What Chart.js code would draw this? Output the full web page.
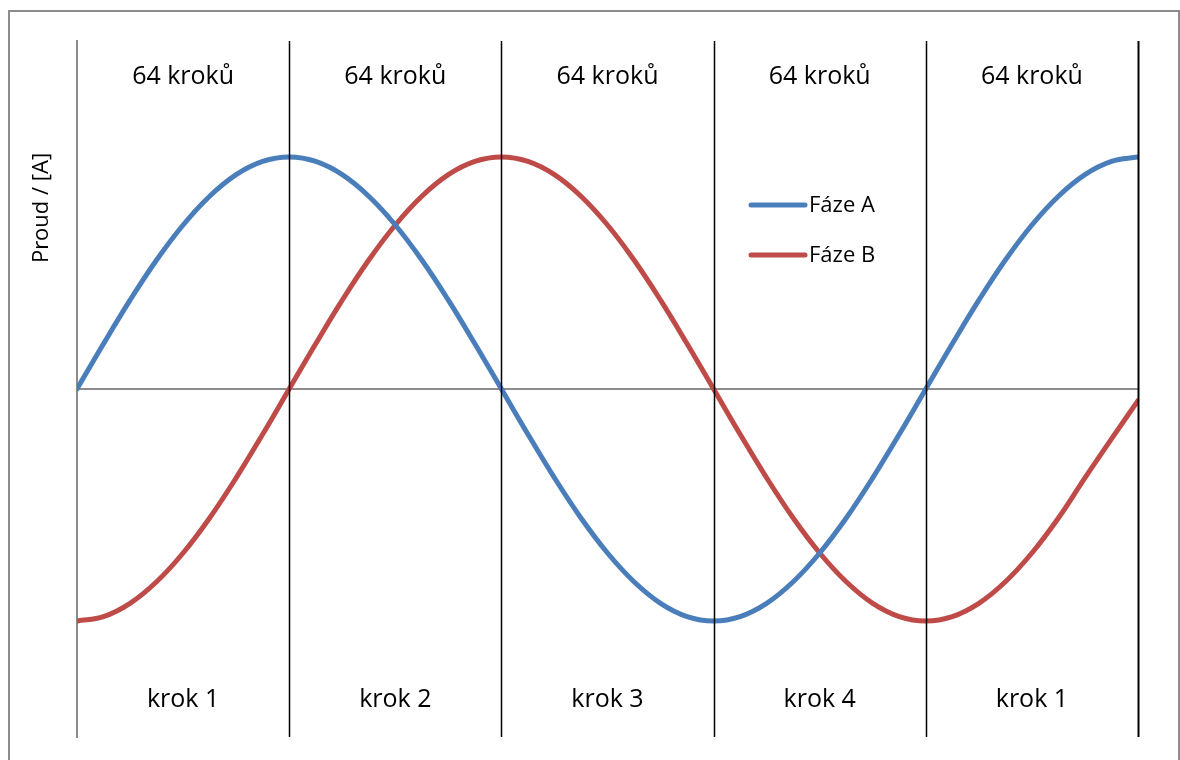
<!DOCTYPE html>
<html>
<head>
<meta charset="utf-8">
<script src="https://cdn.jsdelivr.net/npm/chart.js@4/dist/chart.umd.min.js"></script>
<style>
  body { margin: 0; background: #fff; }
  #wrap { position: relative; width: 1180px; height: 760px; overflow: hidden; }
  #frame { position: absolute; left: 8px; top: 10px; width: 1172px; height: 800px;
           border: 2px solid #8c8c8c; box-sizing: border-box; pointer-events: none; }
  canvas { position: absolute; left: 0; top: 0; }
</style>
</head>
<body>
<div id="wrap">
  <canvas id="chart" width="1180" height="760"></canvas>
  <div id="frame"></div>
</div>
<script>
// mikrokroky (po 8), 5 úseků po 64 krocích
const steps = [0, 8, 16, 24, 32, 40, 48, 56, 64, 72, 80, 88, 96, 104, 112, 120, 128,
  136, 144, 152, 160, 168, 176, 184, 192, 200, 208, 216, 224, 232, 240, 248, 256,
  264, 272, 280, 288, 296, 304, 312, 320];

// proud fáze A a B (relativně k maximu)
const fazeA = [0, 0.195, 0.383, 0.556, 0.707, 0.831, 0.924, 0.981, 1, 0.981, 0.924,
  0.831, 0.707, 0.556, 0.383, 0.195, 0, -0.195, -0.383, -0.556, -0.707, -0.831, -0.924,
  -0.981, -1, -0.981, -0.924, -0.831, -0.707, -0.556, -0.383, -0.195, 0, 0.195, 0.383,
  0.556, 0.707, 0.831, 0.924, 0.981, 1];
const fazeB = [-1, -0.981, -0.924, -0.831, -0.707, -0.556, -0.383, -0.195, 0, 0.195,
  0.383, 0.556, 0.707, 0.831, 0.924, 0.981, 1, 0.981, 0.924, 0.831, 0.707, 0.556, 0.383,
  0.195, 0, -0.195, -0.383, -0.556, -0.707, -0.831, -0.924, -0.981, -1, -0.981, -0.924,
  -0.831, -0.707, -0.556, -0.383, -0.215, -0.05];

const segment = 64;
const topLabels = ["64 kroků", "64 kroků", "64 kroků", "64 kroků", "64 kroků"];
const bottomLabels = ["krok 1", "krok 2", "krok 3", "krok 4", "krok 1"];
const seriesNames = ["Fáze A", "Fáze B"];
const seriesColors = ["#4a7ebb", "#be4b48"];
const yTitle = "Proud / [A]";

const FONT = "'Open Sans', 'DejaVu Sans', sans-serif";

// dělicí čáry, popisky úseků, legenda a titulek osy
const overlay = {
  id: 'overlay',
  afterDatasetsDraw(chart) {
    const { ctx, chartArea: a, scales: { x, y } } = chart;
    ctx.save();

    ctx.strokeStyle = '#000';
    for (let i = 1; i <= topLabels.length; i++) {
      const px = Math.round(x.getPixelForValue(i * segment)) + 0.5;
      ctx.lineWidth = i === topLabels.length ? 2 : 1.5;
      ctx.beginPath();
      ctx.moveTo(px, a.top);
      ctx.lineTo(px, a.bottom);
      ctx.stroke();
    }

    ctx.fillStyle = '#000';
    ctx.textAlign = 'center';
    ctx.textBaseline = 'alphabetic';
    ctx.font = '25px ' + FONT;
    topLabels.forEach((t, i) => {
      const cx = x.getPixelForValue(i * segment + segment / 2);
      ctx.fillText(t, cx, a.top + 43);
      ctx.fillText(bottomLabels[i], cx, a.bottom - 30);
    });

    // legenda
    ctx.font = '22px ' + FONT;
    ctx.textAlign = 'left';
    ctx.lineCap = 'round';
    ctx.lineWidth = 5;
    seriesNames.forEach((n, i) => {
      const ly = 205 + i * 50;
      ctx.strokeStyle = seriesColors[i];
      ctx.beginPath();
      ctx.moveTo(751, ly);
      ctx.lineTo(805, ly);
      ctx.stroke();
      ctx.fillText(n, 809, ly + 7);
    });

    // titulek osy y
    ctx.translate(a.left - 29, 208);
    ctx.rotate(-Math.PI / 2);
    ctx.textAlign = 'center';
    ctx.font = '22px ' + FONT;
    ctx.fillText(yTitle, 0, 0);
    ctx.restore();
  }
};

const ctx = document.getElementById('chart').getContext('2d');
new Chart(ctx, {
  type: 'line',
  data: {
    datasets: [fazeA, fazeB].map((vals, i) => ({
      label: seriesNames[i],
      data: steps.map((s, j) => ({ x: s, y: vals[j] })),
      borderColor: seriesColors[i],
      borderWidth: 5,
      pointRadius: 0,
      fill: false,
      tension: 0.4,
      borderCapStyle: 'round',
      borderJoinStyle: 'round'
    }))
  },
  options: {
    responsive: false,
    animation: false,
    layout: { padding: { left: 77, right: 42, top: 41, bottom: 23 } },
    plugins: { legend: { display: false }, tooltip: { enabled: false } },
    scales: {
      x: {
        type: 'linear', min: 0, max: 320,
        ticks: { display: false, stepSize: segment },
        grid: { display: false, drawTicks: false },
        border: { display: false }
      },
      y: {
        min: -1.5, max: 1.5,
        ticks: { display: false, stepSize: 1.5 },
        grid: {
          drawTicks: false,
          lineWidth: 2,
          color: c => (c.tick && c.tick.value === 0) ? '#8c8c8c' : 'rgba(0,0,0,0)'
        },
        border: { display: true, color: '#8c8c8c', width: 2 }
      }
    }
  },
  plugins: [overlay]
});
</script>
</body>
</html>
